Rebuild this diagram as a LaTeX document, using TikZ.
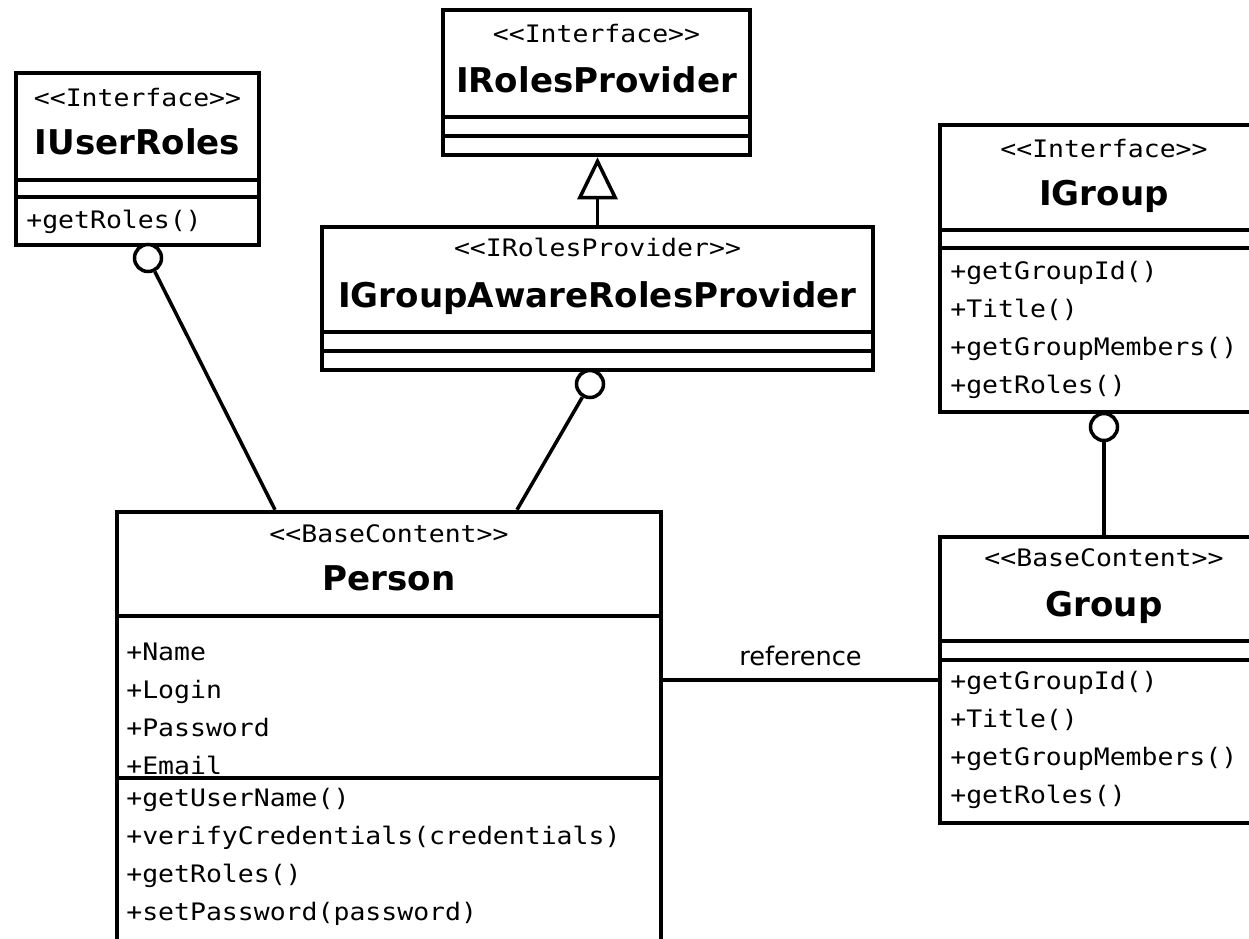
\documentclass[tikz,border=0pt]{standalone}
\usepackage{fontspec}
\setmainfont{DejaVu Sans}
\newfontfamily\umlmono[FakeStretch=1.1]{DejaVu Sans Mono}
\usepackage{xcolor}
\usepackage{tikz}
\usetikzlibrary{shapes,arrows.meta,positioning,calc}

\tikzset{
    classbox/.style={draw, rectangle, line width=2.6pt, inner sep=0pt},
    stereo/.style={font=\umlmono\fontsize{13.7}{16}\selectfont, inner sep=0pt, anchor=base},
    classname/.style={font=\bfseries\fontsize{19.4}{22}\selectfont, inner sep=0pt, anchor=base},
    members/.style={font=\umlmono\fontsize{13.7}{21.6}\selectfont, align=left, inner sep=0pt, anchor=west},
    ball/.style={circle, draw, fill=white, line width=2pt, minimum size=0.54cm, inner sep=0pt},
    link/.style={line width=2pt},
    sep/.style={line width=2.6pt}
}

\begin{document}
\begin{tikzpicture}[x=0.02cm, y=-0.02cm]
    \useasboundingbox[fill=white] (0,0) rectangle (1249,938);
    \clip (0,0) rectangle (1249,938);

    \node[classbox, minimum width=4.86cm, minimum height=3.44cm] (userroles) at (137.5,159) {};
    \draw[sep] (userroles.west |- 0,180) -- (userroles.east |- 0,180);
    \draw[sep] (userroles.west |- 0,197) -- (userroles.east |- 0,197);
    \node[stereo] (userrolesst) at (137.5,106) {<{}<Interface>{}>};
    \node[classname] (userrolesname) at (137.5,154) {IUserRoles};
    \node[members] (userrolesops) at (26,222) {+getRoles()};

    \node[classbox, minimum width=6.14cm, minimum height=2.9cm] (rolesprovider) at (596.5,82.5) {};
    \draw[sep] (rolesprovider.west |- 0,117) -- (rolesprovider.east |- 0,117);
    \draw[sep] (rolesprovider.west |- 0,136) -- (rolesprovider.east |- 0,136);
    \node[stereo] (rolesproviderst) at (596.5,42) {<{}<Interface>{}>};
    \node[classname] (rolesprovidername) at (596.5,92) {IRolesProvider};

    \node[classbox, minimum width=11.02cm, minimum height=2.86cm] (awareprovider) at (597.5,298.5) {};
    \draw[sep] (awareprovider.west |- 0,332) -- (awareprovider.east |- 0,332);
    \draw[sep] (awareprovider.west |- 0,351) -- (awareprovider.east |- 0,351);
    \node[stereo] (awareproviderst) at (597.5,256) {<{}<IRolesProvider>{}>};
    \node[classname] (awareprovidername) at (597.5,307) {IGroupAwareRolesProvider};

    \node[classbox, minimum width=6.6cm, minimum height=5.74cm] (igroup) at (1105,268.5) {};
    \draw[sep] (igroup.west |- 0,230) -- (igroup.east |- 0,230);
    \draw[sep] (igroup.west |- 0,248) -- (igroup.east |- 0,248);
    \node[stereo] (igroupst) at (1104,157) {<{}<Interface>{}>};
    \node[classname] (igroupname) at (1104,205) {IGroup};
    \node[members] (igroupops) at (950,330) {+getGroupId()\\+Title()\\+getGroupMembers()\\+getRoles()};

    \node[classbox, minimum width=6.6cm, minimum height=5.72cm] (group) at (1105,680) {};
    \draw[sep] (group.west |- 0,641) -- (group.east |- 0,641);
    \draw[sep] (group.west |- 0,660) -- (group.east |- 0,660);
    \node[stereo] (groupst) at (1104,566) {<{}<BaseContent>{}>};
    \node[classname] (groupname) at (1104,616) {Group};
    \node[members] (groupops) at (950,740) {+getGroupId()\\+Title()\\+getGroupMembers()\\+getRoles()};

    \node[classbox, minimum width=10.88cm, minimum height=8.96cm] (person) at (389,736) {};
    \draw[sep] (person.west |- 0,616) -- (person.east |- 0,616);
    \draw[sep] (person.west |- 0,778) -- (person.east |- 0,778);
    \node[stereo] (personst) at (389,542) {<{}<BaseContent>{}>};
    \node[classname] (personname) at (389,590) {Person};
    \node[members] (personattrs) at (126,708.5) {+Name\\+Login\\+Password\\+Email};
    \node[members] (personops) at (126,857) {+getUserName()\\+verifyCredentials(credentials)\\+getRoles()\\+setPassword(password)};

    \draw[link, -{Triangle[open, length=0.84cm, width=0.8cm, line width=2pt]}] (awareprovider.north) -- (awareprovider.north |- rolesprovider.south);

    \node[ball] (userrolesball) at (148,258) {};
    \node[ball] (awareball) at (590,384) {};
    \node[ball] (igroupball) at (1104,427) {};
    \draw[link] (userrolesball) -- (person.north -| 275,0);
    \draw[link] (awareball) -- (person.north -| 517,0);
    \draw[link] (igroupball) -- (group.north -| igroupball);

    \draw[link] (person.east |- 0,680) -- (group.west |- 0,680)
        node[midway, above, inner sep=7pt, font=\fontsize{14.6}{17}\selectfont] (reflabel) {reference};
\end{tikzpicture}
\end{document}
